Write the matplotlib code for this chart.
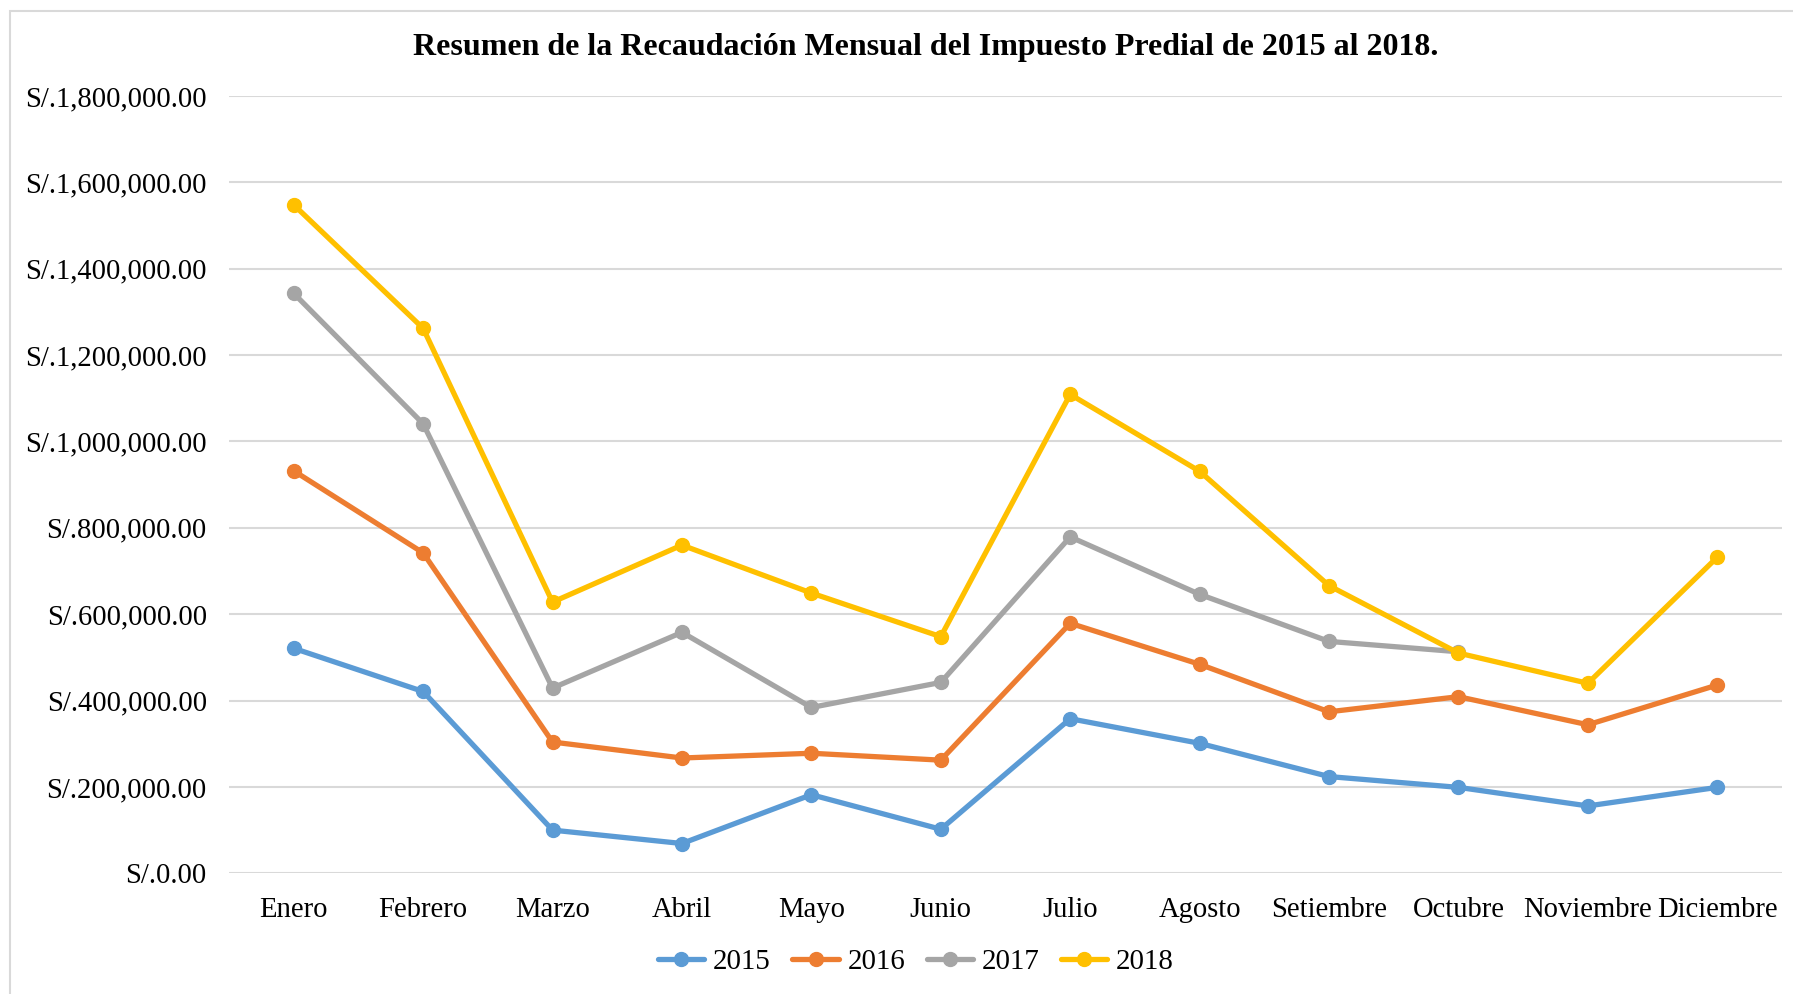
import matplotlib
matplotlib.use("Agg")
import matplotlib.pyplot as plt
import numpy as np
from matplotlib.ticker import FuncFormatter
from matplotlib.patches import Rectangle

months = ["Enero", "Febrero", "Marzo", "Abril", "Mayo", "Junio", "Julio",
          "Agosto", "Setiembre", "Octubre", "Noviembre", "Diciembre"]
y2015 = [521000, 421000, 100000, 69000, 182000, 102000, 358000, 301000, 224000, 199000, 156000, 199000]
y2016 = [932000, 742000, 304000, 267000, 278000, 262000, 579000, 484000, 374000, 409000, 344000, 436000]
y2017 = [1343000, 1041000, 429000, 558000, 384000, 442000, 779000, 646000, 537000, 513000, np.nan, np.nan]
y2018 = [1548000, 1262000, 628000, 760000, 649000, 548000, 1109000, 931000, 666000, 510000, 440000, 732000]
series_names = ["2015", "2016", "2017", "2018"]
series_colors = ["#5B9BD5", "#ED7D31", "#A5A5A5", "#FFC000"]
title = "Resumen de la Recaudación Mensual del Impuesto Predial de 2015 al 2018."

plt.rcParams['font.family'] = ['Liberation Serif', 'DejaVu Serif']

W, H = 1793, 994
fig = plt.figure(figsize=(W / 100, H / 100), dpi=100)
fig.patches.append(Rectangle((10 / W, -0.1), 1.2, 1 - 11 / H + 0.1, transform=fig.transFigure,
                             fill=False, edgecolor="#D9D9D9", linewidth=1.5))

ax = fig.add_axes([229 / W, 1 - 873.3 / H, (1782 - 229) / W, (873.3 - 96) / H])
x = np.arange(len(months))
for name, vals, c in zip(series_names, [y2015, y2016, y2017, y2018], series_colors):
    ax.plot(x, vals, color=c, linewidth=3.8, marker='o', markersize=10, label=name,
            solid_capstyle='round')

ax.set_ylim(0, 1800000)
ax.set_xlim(-0.5, len(months) - 0.5)
ax.set_yticks(np.arange(0, 1800001, 200000))
ax.yaxis.set_major_formatter(FuncFormatter(lambda v, p: "S/.{:,.2f}".format(v)))
ax.set_xticks(x)
ax.set_xticklabels(months)
ax.tick_params(axis='both', length=0, labelsize=20.6)
ax.tick_params(axis='y', pad=16)
ax.tick_params(axis='x', pad=17)
ax.grid(axis='y', color="#D9D9D9", linewidth=1.5)
ax.set_axisbelow(True)
for s in ax.spines.values():
    s.set_visible(False)

fig.text(926 / W, 1 - 48 / H, title, ha='center', va='center', fontsize=23, fontweight='bold')

fig.legend(loc='center', bbox_to_anchor=(916 / W, 1 - 962 / H), ncol=4, frameon=False,
           fontsize=20.8, handlelength=1.6, columnspacing=0.75, handletextpad=0.3)

fig.savefig("out.png", dpi=100)
